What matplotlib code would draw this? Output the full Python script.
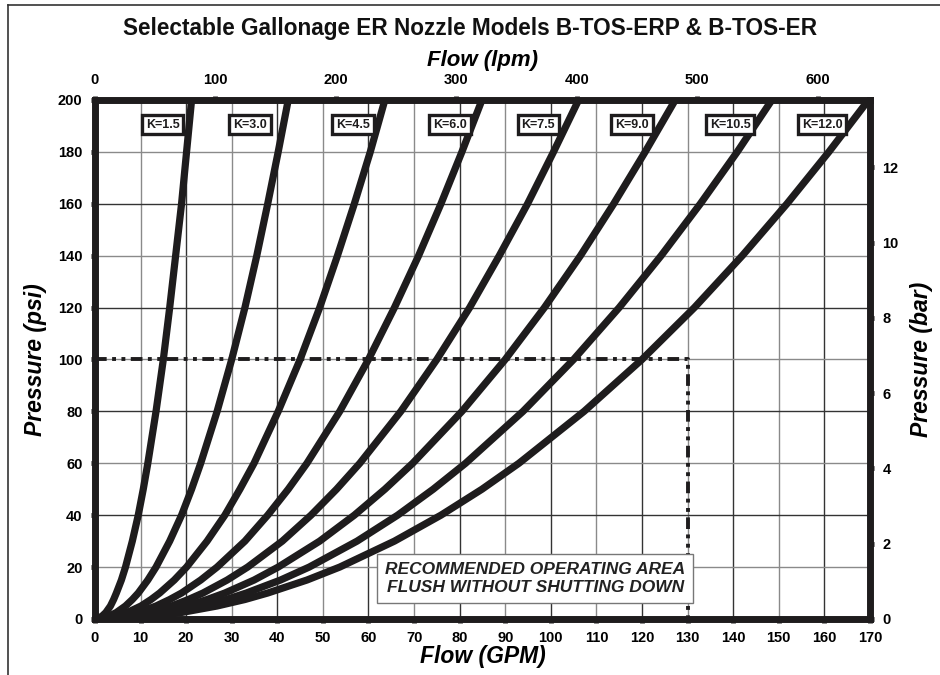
import matplotlib
matplotlib.use("Agg")
import matplotlib.pyplot as plt
from matplotlib.lines import Line2D

plt.rcParams['font.family'] = ['Liberation Sans', 'DejaVu Sans']

pressure_psi = [0, 1, 2.5, 5, 7.5, 10, 15, 20, 30, 40, 50, 60, 80, 100, 120, 140, 160, 180, 200]

# flow (GPM) at the pressures above
flows = {
    "K=1.5": [0, 1.5, 2.4, 3.4, 4.1, 4.7, 5.8, 6.7, 8.2, 9.5, 10.6, 11.6, 13.4, 15.0,
              16.4, 17.7, 19.0, 20.1, 21.2],
    "K=3.0": [0, 3.0, 4.7, 6.7, 8.2, 9.5, 11.6, 13.4, 16.4, 19.0, 21.2, 23.2, 26.8, 30.0,
              32.9, 35.5, 37.9, 40.2, 42.4],
    "K=4.5": [0, 4.5, 7.1, 10.1, 12.3, 14.2, 17.4, 20.1, 24.6, 28.5, 31.8, 34.9, 40.2, 45.0,
              49.3, 53.2, 56.9, 60.4, 63.6],
    "K=6.0": [0, 6.0, 9.5, 13.4, 16.4, 19.0, 23.2, 26.8, 32.9, 37.9, 42.4, 46.5, 53.7, 60.0,
              65.7, 71.0, 75.9, 80.5, 84.9],
    "K=7.5": [0, 7.5, 11.9, 16.8, 20.5, 23.7, 29.0, 33.5, 41.1, 47.4, 53.0, 58.1, 67.1, 75.0,
              82.2, 88.7, 94.9, 100.6, 106.1],
    "K=9.0": [0, 9.0, 14.2, 20.1, 24.6, 28.5, 34.9, 40.2, 49.3, 56.9, 63.6, 69.7, 80.5, 90.0,
              98.6, 106.5, 113.8, 120.7, 127.3],
    "K=10.5": [0, 10.5, 16.6, 23.5, 28.8, 33.2, 40.7, 47.0, 57.5, 66.4, 74.2, 81.3, 93.9, 105.0,
               115.0, 124.2, 132.8, 140.9, 148.5],
    "K=12.0": [0, 12.0, 19.0, 26.8, 32.9, 37.9, 46.5, 53.7, 65.7, 75.9, 84.9, 93.0, 107.3, 120.0,
               131.5, 142.0, 151.8, 161.0, 169.7],
}

# label positions (GPM, psi) of the K boxes along the top
label_x = [14.9, 34.0, 56.6, 77.9, 97.2, 117.8, 139.3, 159.5]
label_y = 190.5

# recommended operating area corner
area_flow = 130
area_psi = 100

GPM_TO_LPM = 3.785
PSI_TO_BAR = 1 / 14.5038

INK = '#1e1c1d'

fig = plt.figure(figsize=(9.4, 6.75), dpi=100)
ax = fig.add_axes([0.101, 0.083, 0.8245, 0.769])

# gridlines
for gx in range(10, 170, 10):
    ax.axvline(gx, color='#333333' if gx % 20 == 0 else '#8a8a8a', lw=1.0, zorder=1)
for gy in range(20, 200, 20):
    ax.axhline(gy, color='#333333' if gy % 40 == 0 else '#8a8a8a', lw=1.0, zorder=1)

# K-factor curves
for name, q in flows.items():
    ax.plot(q, pressure_psi, color=INK, lw=5.2, solid_capstyle='butt',
            solid_joinstyle='round', zorder=3)

# recommended area boundary
ax.plot([0, area_flow, area_flow], [area_psi, area_psi, 0], color=INK, lw=2.8,
        dashes=[3, 1.4, 1.0, 1.4, 1.0, 1.4], zorder=4)

# K labels
for name, lx in zip(flows.keys(), label_x):
    ax.text(lx, label_y, name, ha='center', va='center', fontsize=9, fontweight='bold',
            color=INK, zorder=6,
            bbox=dict(boxstyle='square,pad=0.3', fc='white', ec=INK, lw=2.4))

ax.text(96.6, 15.6, "RECOMMENDED OPERATING AREA\nFLUSH WITHOUT SHUTTING DOWN",
        ha='center', va='center', fontsize=12.5, fontweight='bold', fontstyle='italic',
        color='#222222', linespacing=1.3, zorder=6,
        bbox=dict(boxstyle='square,pad=0.45', fc='white', ec='#777777', lw=1.0))

ax.set_xlim(0, 170)
ax.set_ylim(0, 200)
ax.set_xticks(range(0, 171, 10))
ax.set_yticks(range(0, 201, 20))
for s in ax.spines.values():
    s.set_linewidth(5)
    s.set_color(INK)
    s.set_zorder(5)
ax.tick_params(length=3, width=3.5, color=INK, labelsize=10.5, pad=6)
for lab in ax.get_xticklabels() + ax.get_yticklabels():
    lab.set_fontweight('bold')

ax.set_xlabel("Flow (GPM)", fontsize=16.5, fontweight='bold', fontstyle='italic', labelpad=0)
ax.set_ylabel("Pressure (psi)", fontsize=16.5, fontweight='bold', fontstyle='italic', labelpad=8)

# top lpm axis
top = ax.secondary_xaxis('top', functions=(lambda x: x * GPM_TO_LPM, lambda x: x / GPM_TO_LPM))
top.set_xticks(range(0, 601, 100))
top.tick_params(length=3, width=3.5, color=INK, labelsize=10.5, pad=6)
for lab in top.get_xticklabels():
    lab.set_fontweight('bold')
top.spines['top'].set_visible(False)
top.set_xlabel("Flow (lpm)", fontsize=16, fontweight='bold', fontstyle='italic', labelpad=5)

# right bar axis
right = ax.secondary_yaxis('right', functions=(lambda p: p * PSI_TO_BAR, lambda b: b / PSI_TO_BAR))
right.set_yticks(range(0, 13, 2))
right.tick_params(length=3, width=3.5, color=INK, labelsize=10.5, pad=6)
for lab in right.get_yticklabels():
    lab.set_fontweight('bold')
right.spines['right'].set_visible(False)
right.set_ylabel("Pressure (bar)", fontsize=16.5, fontweight='bold', fontstyle='italic', labelpad=8)

fig.text(0.5, 0.958, "Selectable Gallonage ER Nozzle Models B-TOS-ERP & B-TOS-ER",
         ha='center', va='center', fontsize=16.3, fontweight='bold', color='#111111')

# outer frame (top and left edges)
fig.add_artist(Line2D([0.009, 1.0], [0.993, 0.993], color='#333333', lw=1.2))
fig.add_artist(Line2D([0.009, 0.009], [0.0, 0.993], color='#333333', lw=1.2))

fig.savefig("out.png", dpi=100)
